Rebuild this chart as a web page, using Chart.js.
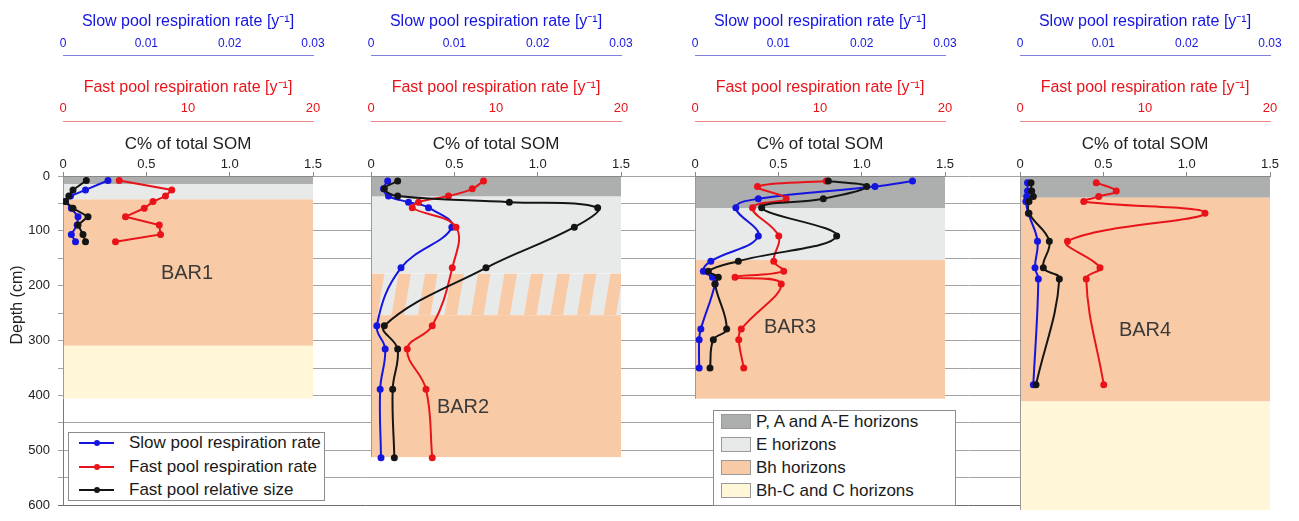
<!DOCTYPE html>
<html lang="en">
<head>
<meta charset="UTF-8">
<title>Soil C pools by depth, BAR1-BAR4</title>
<script src="https://cdn.jsdelivr.net/npm/chart.js"></script>
<style>
  body { margin: 0; background: #fff; font-family: Arial, "Liberation Sans", sans-serif; }
  #wrap { position: relative; width: 1299px; height: 521px; overflow: hidden; }
  #wrap canvas { position: absolute; left: 0; top: 0; pointer-events: none; }
  .legend { position: absolute; background: #fff; border: 1px solid #8c8c8c; font-size: 17px; color: #1a1a1a; box-sizing: border-box; }
  .legend .row { position: absolute; height: 20px; line-height: 20px; white-space: nowrap; }
  .legend .line { position: absolute; width: 35px; height: 2px; top: 9px; }
  .legend .dot { position: absolute; width: 6px; height: 6px; border-radius: 3px; top: 7px; left: 15px; }
  .legend .sw { position: absolute; width: 30px; height: 15px; top: 2px; border: 1px solid #999; box-sizing: border-box; }
</style>
</head>
<body>
<div id="wrap">
  <canvas id="bg" width="1299" height="521"></canvas>
  <canvas id="p1" width="1299" height="521"></canvas>
  <canvas id="p2" width="1299" height="521"></canvas>
  <canvas id="p3" width="1299" height="521"></canvas>
  <canvas id="p4" width="1299" height="521"></canvas>

  <div class="legend" style="left:68px; top:432px; width:257px; height:69px;">
    <div class="row" style="left:10px; top:0px;"><div class="line" style="background:#1515e0"></div><div class="dot" style="background:#1515e0"></div><span style="margin-left:50px">Slow pool respiration rate</span></div>
    <div class="row" style="left:10px; top:24px;"><div class="line" style="background:#e8141a"></div><div class="dot" style="background:#e8141a"></div><span style="margin-left:50px">Fast pool respiration rate</span></div>
    <div class="row" style="left:10px; top:47px;"><div class="line" style="background:#151515"></div><div class="dot" style="background:#151515"></div><span style="margin-left:50px">Fast pool relative size</span></div>
  </div>

  <div class="legend" style="left:713px; top:410px; width:243px; height:96px;">
    <div class="row" style="left:7px; top:1px;"><div class="sw" style="background:#adaeae"></div><span style="margin-left:35px">P, A and A-E horizons</span></div>
    <div class="row" style="left:7px; top:24px;"><div class="sw" style="background:#e8eaea"></div><span style="margin-left:35px">E horizons</span></div>
    <div class="row" style="left:7px; top:47px;"><div class="sw" style="background:#f8cba6"></div><span style="margin-left:35px">Bh horizons</span></div>
    <div class="row" style="left:7px; top:70px;"><div class="sw" style="background:#fff7d8"></div><span style="margin-left:35px">Bh-C and C horizons</span></div>
  </div>
</div>

<script>
// ---- data ----
// depth of each sample (cm), slow pool rate (1/y), fast pool rate (1/y), fast pool size (C% of total SOM)
const depth1 = [8, 25, 36, 46, 58, 73, 88, 105, 118];
const slow1  = [0.0054, 0.0027, 0.0009, 0.0003, 0.0010, 0.0018, 0.0017, 0.0010, 0.0015];
const fast1  = [4.5, 8.7, 8.2, 7.2, 6.5, 5.0, 7.7, 7.8, 4.2];
const size1  = [0.14, 0.06, 0.035, 0.015, 0.06, 0.15, 0.09, 0.12, 0.135];

const depth2 = [9, 23, 36, 47, 57, 92, 165, 269, 311, 383, 506];
const slow2  = [0.0020, 0.0015, 0.0021, 0.0045, 0.0069, 0.0097, 0.0036, 0.0007, 0.0017, 0.0011, 0.0012];
const fast2  = [9.0, 8.1, 6.2, 3.8, 3.3, 6.8, 6.5, 4.9, 2.9, 4.4, 4.9];
const size2  = [0.16, 0.08, 0.16, 0.83, 1.36, 1.22, 0.69, 0.08, 0.16, 0.13, 0.14];

const depth3 = [9, 19, 41, 57, 108, 153, 171, 182, 194, 275, 294, 345];
const slow3  = [0.0261, 0.0216, 0.0076, 0.0049, 0.0076, 0.0019, 0.0010, 0.0021, 0.0024, 0.0007, 0.0005, 0.0005];
const fast3  = [10.5, 5.0, 7.3, 4.6, 6.7, 6.3, 7.1, 3.2, 6.9, 3.7, 3.5, 3.9];
const size3  = [0.80, 1.03, 0.77, 0.40, 0.85, 0.26, 0.08, 0.14, 0.12, 0.19, 0.11, 0.09];

const depth4 = [12, 27, 37, 46, 67, 117, 165, 185, 375];
const slow4  = [0.0009, 0.0009, 0.0008, 0.0007, 0.0010, 0.0021, 0.0018, 0.0022, 0.0016];
const fast4  = [6.1, 7.7, 6.3, 5.1, 14.8, 3.8, 6.4, 5.3, 6.7];
const size4  = [0.066, 0.07, 0.08, 0.054, 0.054, 0.176, 0.14, 0.236, 0.096];

// horizon boundaries (cm): [kind, from, to]
const horizons1 = [['P', 0, 15], ['E', 15, 42], ['Bh', 42, 305], ['BhC', 305, 400]];
const horizons2 = [['P', 0, 37], ['E', 37, 175], ['EBh', 175, 250], ['Bh', 250, 505]];
const horizons3 = [['P', 0, 58], ['E', 58, 151], ['Bh', 151, 400]];
const horizons4 = [['P', 0, 39], ['Bh', 39, 405], ['BhC', 405, 600]];

const siteNames = ['BAR1', 'BAR2', 'BAR3', 'BAR4'];

// axis ranges
const depthMax = 600;
const sizeMax = 1.5, fastMax = 20, slowMax = 0.03;

// ---- styling ----
const BLUE = '#1515e0', RED = '#e8141a', BLACK = '#151515';
const bandColors = { P: '#adaeae', E: '#e8eaea', Bh: '#f8cba6', BhC: '#fff7d8' };
const FONT = 'Arial, "Liberation Sans", sans-serif';
Chart.defaults.font.family = FONT;

const W = 1299, PANEL_W = 250;

function drawHatch(ctx, left, right, top, bottom) {
    ctx.save();
    ctx.beginPath();
    ctx.rect(left, top, right - left, bottom - top);
    ctx.clip();
    ctx.fillStyle = bandColors.E;
    ctx.fillRect(left, top, right - left, bottom - top);
    ctx.fillStyle = bandColors.Bh;
    const period = 26.5, w = 12.5, slant = 7;
    for (let x = left + 1; x < right + slant; x += period) {
        ctx.beginPath();
        ctx.moveTo(x, top);
        ctx.lineTo(x + w, top);
        ctx.lineTo(x + w - slant, bottom);
        ctx.lineTo(x - slant, bottom);
        ctx.closePath();
        ctx.fill();
    }
    ctx.restore();
}

function makePanel(canvasId, x0, depths, slow, fast, size, bands, name, labelAt, smooth) {
    const pts = vals => vals.map((v, i) => ({ x: v, y: depths[i] }));

    const panelPlugin = {
        id: 'panelBands',
        beforeDraw(chart) {
            const { ctx, scales: { x, y } } = chart;
            const left = x.getPixelForValue(0), right = x.getPixelForValue(sizeMax);
            ctx.save();
            bands.forEach(([kind, d0, d1]) => {
                const top = y.getPixelForValue(d0), bottom = y.getPixelForValue(d1);
                if (kind === 'EBh') drawHatch(ctx, left, right, top, bottom);
                else {
                    ctx.fillStyle = bandColors[kind];
                    ctx.fillRect(left, top, right - left, bottom - top);
                }
            });
            // thin edge on the left of the soil column
            const last = bands[bands.length - 1][2];
            ctx.strokeStyle = '#9a9a9a';
            ctx.lineWidth = 1;
            ctx.beginPath();
            ctx.moveTo(Math.round(left) + 0.5, y.getPixelForValue(0));
            ctx.lineTo(Math.round(left) + 0.5, y.getPixelForValue(last));
            ctx.stroke();
            ctx.restore();
        },
        afterDatasetsDraw(chart) {
            const { ctx, scales: { x, y } } = chart;
            ctx.save();
            ctx.font = '20px ' + FONT;
            ctx.fillStyle = '#3a3a3a';
            ctx.textAlign = 'center';
            ctx.textBaseline = 'middle';
            ctx.fillText(name, x.getPixelForValue(labelAt[0]), y.getPixelForValue(labelAt[1]));
            ctx.restore();
        }
    };

    const line = (label, data, color, axis) => ({
        label, data, xAxisID: axis, yAxisID: 'y',
        borderColor: color, backgroundColor: color,
        borderWidth: 2, pointRadius: 2.5, pointHoverRadius: 2.5,
        tension: smooth ? 0.4 : 0, fill: false
    });

    return new Chart(document.getElementById(canvasId), {
        type: 'line',
        data: {
            datasets: [
                line('Fast pool relative size', pts(size), BLACK, 'x'),
                line('Fast pool respiration rate', pts(fast), RED, 'xFast'),
                line('Slow pool respiration rate', pts(slow), BLUE, 'xSlow')
            ]
        },
        options: {
            responsive: false,
            animation: false,
            events: [],
            layout: { padding: { left: x0, right: W - x0 - PANEL_W, top: 0, bottom: 11 } },
            plugins: { legend: { display: false }, tooltip: { enabled: false } },
            scales: {
                y: { type: 'linear', reverse: true, min: 0, max: depthMax, display: false },
                x: {
                    type: 'linear', axis: 'x', position: 'top', min: 0, max: sizeMax, weight: 0,
                    ticks: { stepSize: 0.5, color: '#222', font: { size: 13 }, padding: 0, maxRotation: 0 },
                    grid: { display: true, drawOnChartArea: false, tickLength: 4, color: '#888' },
                    border: { display: true, color: '#888' },
                    title: { display: true, text: 'C% of total SOM', color: '#222', font: { size: 17 }, padding: { top: 13, bottom: 0 } },
                    afterFit: s => { s.height = 55; }
                },
                xFast: {
                    type: 'linear', axis: 'x', position: 'top', min: 0, max: fastMax, weight: 1,
                    ticks: { stepSize: 10, color: RED, font: { size: 13 }, padding: 5, maxRotation: 0 },
                    grid: { display: false, drawTicks: false },
                    border: { display: true, color: '#ee8888' },
                    title: { display: true, text: 'Fast pool respiration rate [y\u207B\u00B9]', color: RED, font: { size: 16 }, padding: { top: 23, bottom: 0 } },
                    afterFit: s => { s.height = 66; }
                },
                xSlow: {
                    type: 'linear', axis: 'x', position: 'top', min: 0, max: slowMax, weight: 2,
                    ticks: { stepSize: 0.01, color: BLUE, font: { size: 12 }, padding: 4, maxRotation: 0 },
                    grid: { display: false, drawTicks: false },
                    border: { display: true, color: '#8080e0' },
                    title: { display: true, text: 'Slow pool respiration rate [y\u207B\u00B9]', color: BLUE, font: { size: 16 }, padding: { top: 12, bottom: 0 } },
                    afterFit: s => { s.height = 55; }
                }
            }
        },
        plugins: [panelPlugin]
    });
}

// background: depth axis and horizontal grid running under all four panels
const depthTitle = {
    id: 'depthTitle',
    afterDraw(chart) {
        const { ctx } = chart;
        ctx.save();
        ctx.translate(18, 305);
        ctx.rotate(-Math.PI / 2);
        ctx.font = '16px ' + FONT;
        ctx.fillStyle = '#222';
        ctx.textAlign = 'center';
        ctx.textBaseline = 'middle';
        ctx.fillText('Depth (cm)', 0, 0);
        ctx.restore();
    }
};

new Chart(document.getElementById('bg'), {
    type: 'line',
    data: { datasets: [] },
    options: {
        responsive: false,
        animation: false,
        events: [],
        layout: { padding: { left: 0, right: W - 1270, top: 176, bottom: 11 } },
        plugins: { legend: { display: false }, tooltip: { enabled: false } },
        scales: {
            x: { type: 'linear', min: 0, max: 1, display: false },
            y: {
                type: 'linear', reverse: true, min: 0, max: depthMax,
                ticks: { stepSize: 50, autoSkip: false, color: '#222', font: { size: 13 }, padding: 8,
                         callback: v => (v % 100 === 0 ? v : '') },
                grid: { color: ctx => (ctx.tick && ctx.tick.value === depthMax ? '#6e6e6e' : '#a3a3a3'), tickLength: 5 },
                border: { display: true, color: '#7a7a7a' },
                afterFit: s => { s.width = 63; }
            }
        }
    },
    plugins: [depthTitle]
});

makePanel('p1', 63,  depth1, slow1, fast1, size1, horizons1, siteNames[0], [0.744, 176], false);
makePanel('p2', 371, depth2, slow2, fast2, size2, horizons2, siteNames[1], [0.552, 415], true);
makePanel('p3', 695, depth3, slow3, fast3, size3, horizons3, siteNames[2], [0.57, 273], true);
makePanel('p4', 1020, depth4, slow4, fast4, size4, horizons4, siteNames[3], [0.75, 277], true);
</script>
</body>
</html>
